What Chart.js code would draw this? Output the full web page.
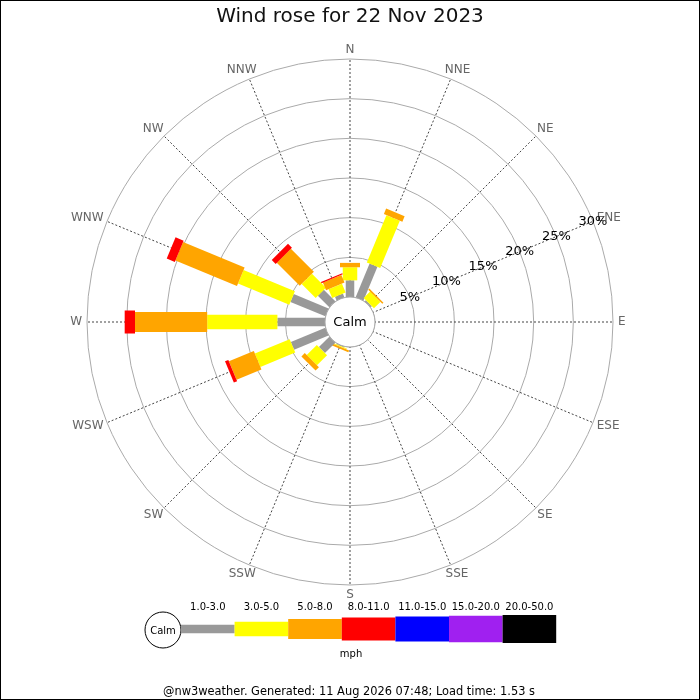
<!DOCTYPE html>
<html>
<head>
<meta charset="utf-8">
<script src="https://cdn.jsdelivr.net/npm/chart.js@4/dist/chart.umd.min.js"></script>
<style>
    html, body { margin: 0; padding: 0; background: #fff; }
    #wrap { width: 700px; height: 700px; }
</style>
</head>
<body>
<div id="wrap"><canvas id="roseChart" width="700" height="700"></canvas></div>
<script>
// Wind rose for 22 Nov 2023 (percent of time, by direction and speed band)

const directions = ['N', 'NNE', 'NE', 'ENE', 'E', 'ESE', 'SE', 'SSE', 'S', 'SSW', 'SW', 'WSW', 'W', 'WNW', 'NW', 'NNW'];
const speedBins = ['1.0-3.0', '3.0-5.0', '5.0-8.0', '8.0-11.0', '11.0-15.0', '15.0-20.0', '20.0-50.0'];
const binColors = ['#999999', '#ffff00', '#ffa500', '#ff0000', '#0000ff', '#a020f0', '#000000'];
const ringTicks = [0, 5, 10, 15, 20, 25, 30];

// one list per speed band, 16 directions starting at N, clockwise
const speed1to3   = [2.1, 4.6, 0.2, 0, 0, 0, 0, 0, 0, 0.1, 1.85, 4.7, 6.0, 4.75, 2.05, 0.5];
const speed3to5   = [1.65, 6.45, 1.15, 0, 0, 0, 0, 0, 0, 0.1, 1.8, 4.75, 8.85, 7.0, 2.5, 1.2];
const speed5to8   = [0.55, 0.75, 0.2, 0, 0, 0, 0, 0, 0, 0.25, 0.6, 3.4, 9.1, 8.4, 4.1, 1.05];
const speed8to11  = [0, 0, 0, 0, 0, 0, 0, 0, 0, 0, 0, 0.45, 1.3, 1.1, 0.7, 0.15];
const speed11to15 = [0, 0, 0, 0, 0, 0, 0, 0, 0, 0, 0, 0, 0, 0, 0, 0];
const speed15to20 = [0, 0, 0, 0, 0, 0, 0, 0, 0, 0, 0, 0, 0, 0, 0, 0];
const speed20to50 = [0, 0, 0, 0, 0, 0, 0, 0, 0, 0, 0, 0, 0, 0, 0, 0];

const FONT = '"DejaVu Sans", Verdana, sans-serif';
Chart.defaults.font.family = FONT;

// bar thickness per speed band (pixels)
const barWidths = [8.5, 14.5, 20, 23, 25, 26.5, 28];

const bandData = [speed1to3, speed3to5, speed5to8, speed8to11, speed11to15, speed15to20, speed20to50];

// draws the stacked bars along each spoke, then calm circle and ring labels
const rosePlugin = {
    id: 'roseBars',
    afterDatasetsDraw(chart) {
        const scale = chart.scales.r;
        const ctx = chart.ctx;
        const cx = scale.xCenter, cy = scale.yCenter;

        directions.forEach((dir, i) => {
            const angle = scale.getIndexAngle(i) - Math.PI / 2;
            let cum = 0;
            chart.data.datasets.forEach((ds, b) => {
                const v = ds.data[i];
                if (!v) return;
                const r0 = scale.getDistanceFromCenterForValue(cum);
                const r1 = scale.getDistanceFromCenterForValue(cum + v);
                cum += v;
                ctx.save();
                ctx.translate(cx, cy);
                ctx.rotate(angle);
                ctx.fillStyle = ds.backgroundColor;
                ctx.fillRect(r0, -barWidths[b] / 2, r1 - r0, barWidths[b]);
                ctx.restore();
            });
        });

        // calm circle
        const calmR = scale.getDistanceFromCenterForValue(0);
        ctx.save();
        ctx.beginPath();
        ctx.arc(cx, cy, calmR, 0, Math.PI * 2);
        ctx.fillStyle = '#fff';
        ctx.fill();
        ctx.strokeStyle = '#aaa';
        ctx.lineWidth = 1;
        ctx.stroke();
        ctx.fillStyle = '#000';
        ctx.font = '13px ' + FONT;
        ctx.textAlign = 'center';
        ctx.textBaseline = 'middle';
        ctx.fillText('Calm', cx, cy + 1);

        // direction labels, pushed outwards by half their size
        const outer = scale.getDistanceFromCenterForValue(scale.max);
        ctx.fillStyle = '#666';
        ctx.font = '12px ' + FONT;
        directions.forEach((dir, i) => {
            const a = scale.getIndexAngle(i);
            const p = scale.getPointPosition(i, outer + 5);
            const w = ctx.measureText(dir).width;
            ctx.fillText(dir, p.x + Math.sin(a) * w / 2, p.y - Math.cos(a) * 4.5);
        });

        // percentage labels along the ENE spoke
        ctx.fillStyle = '#000';
        ctx.font = '13px ' + FONT;
        ringTicks.forEach(t => {
            if (t === 0) return;
            const p = scale.getPointPosition(3, scale.getDistanceFromCenterForValue(t));
            ctx.fillText(t + '%', p.x, p.y);
        });
        ctx.restore();
    },
    afterDraw(chart) {
        const ctx = chart.ctx;
        ctx.save();

        // speed legend under the rose
        const legLeft = 181, segW = 53.6, legY = 629;
        ctx.beginPath();
        ctx.arc(163, 630, 18, 0, Math.PI * 2);
        ctx.fillStyle = '#fff';
        ctx.fill();
        ctx.strokeStyle = '#000';
        ctx.lineWidth = 1;
        ctx.stroke();
        ctx.fillStyle = '#000';
        ctx.font = '10px ' + FONT;
        ctx.textAlign = 'center';
        ctx.textBaseline = 'middle';
        ctx.fillText('Calm', 163, 631);

        speedBins.forEach((label, b) => {
            const x = legLeft + b * segW;
            ctx.fillStyle = binColors[b];
            ctx.fillRect(x, legY - barWidths[b] / 2, segW, barWidths[b]);
            ctx.fillStyle = '#000';
            ctx.fillText(label, x + segW / 2, 607);
        });
        ctx.fillText('mph', 351, 654);

        ctx.font = '11.4px ' + FONT;
        ctx.fillText('@nw3weather. Generated: 11 Aug 2026 07:48; Load time: 1.53 s', 349, 692);

        // frame
        ctx.strokeStyle = '#000';
        ctx.lineWidth = 1;
        ctx.strokeRect(0.5, 0.5, chart.width - 1, chart.height - 1);
        ctx.restore();
    }
};

const datasets = speedBins.map((bin, b) => ({
    label: bin,
    data: bandData[b],
    backgroundColor: binColors[b],
    borderWidth: 0,
    pointRadius: 0,
    pointHitRadius: 0,
    showLine: false,
    fill: false
}));

const ctx = document.getElementById('roseChart').getContext('2d');
const roseChart = new Chart(ctx, {
    type: 'radar',
    data: {
        labels: directions,
        datasets: datasets
    },
    options: {
        responsive: false,
        animation: false,
        layout: {
            padding: { top: 0, left: 87, right: 87, bottom: 115 }
        },
        plugins: {
            legend: { display: false },
            tooltip: { enabled: false },
            title: {
                display: true,
                text: 'Wind rose for 22 Nov 2023',
                color: '#111',
                font: { size: 20, weight: 'normal' },
                padding: { top: 5, bottom: 30 }
            }
        },
        scales: {
            r: {
                min: -3.151,
                max: 30,
                afterBuildTicks: (scale) => {
                    scale.ticks = ringTicks.map(v => ({ value: v }));
                },
                ticks: { display: false },
                grid: { circular: true, color: '#aaa', lineWidth: 1 },
                angleLines: { color: '#444', lineWidth: 1, borderDash: [2, 2] },
                pointLabels: { display: false }
            }
        }
    },
    plugins: [rosePlugin]
});
</script>
</body>
</html>
